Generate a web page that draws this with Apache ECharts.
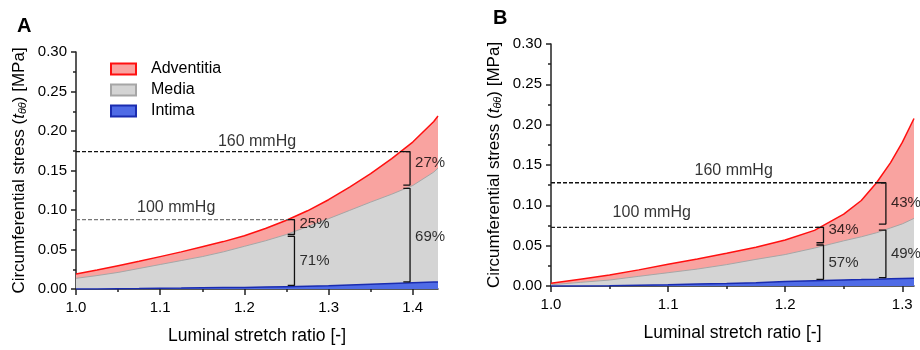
<!DOCTYPE html>
<html>
<head>
<meta charset="utf-8">
<script src="https://cdn.jsdelivr.net/npm/echarts@6/dist/echarts.min.js"></script>
<style>
  html, body { margin: 0; padding: 0; background: #fff; }
  #chart { width: 920px; height: 350px; }
</style>
</head>
<body>
<div id="chart"></div>
<script>
// panel A – stress vs stretch
var xA = [1.000, 1.025, 1.050, 1.075, 1.100, 1.125, 1.150, 1.175, 1.200, 1.225,
          1.250, 1.275, 1.300, 1.325, 1.350, 1.375, 1.400, 1.425, 1.430];
var adventitiaA = [0.019, 0.024, 0.0295, 0.035, 0.041, 0.047, 0.0535, 0.060, 0.0675, 0.0765,
                   0.087, 0.099, 0.113, 0.129, 0.146, 0.165, 0.186, 0.212, 0.219];
var mediaA = [0.0135, 0.017, 0.021, 0.026, 0.031, 0.036, 0.041, 0.047, 0.054, 0.061,
              0.069, 0.079, 0.089, 0.0995, 0.110, 0.120, 0.131, 0.148, 0.153];
var intimaA = [0, 0, 0.0003, 0.0006, 0.001, 0.0012, 0.0015, 0.0018, 0.002, 0.0025,
               0.003, 0.0035, 0.004, 0.005, 0.006, 0.007, 0.008, 0.009, 0.009];

// panel B
var xB = [1.000, 1.025, 1.050, 1.075, 1.100, 1.125, 1.150, 1.175, 1.200, 1.225,
          1.250, 1.265, 1.278, 1.290, 1.300, 1.310];
var adventitiaB = [0.0033, 0.0085, 0.0136, 0.020, 0.027, 0.0335, 0.0405, 0.048, 0.057, 0.069,
                   0.089, 0.106, 0.128, 0.153, 0.178, 0.2076];
var mediaB = [0.0015, 0.0045, 0.0074, 0.012, 0.0165, 0.021, 0.0265, 0.033, 0.039, 0.047,
              0.056, 0.061, 0.066, 0.072, 0.077, 0.0838];
var intimaB = [0, 0, 0.0004, 0.001, 0.0016, 0.0024, 0.003, 0.004, 0.0055, 0.0065,
               0.0075, 0.008, 0.0085, 0.009, 0.0093, 0.0095];

// pressure levels: [label, stress, x where the dashed line stops]
var pressuresA = [['160 mmHg', 0.1739, 1.3968], ['100 mmHg', 0.0878, 1.2595]];
var pressuresB = [['160 mmHg', 0.128, 1.286], ['100 mmHg', 0.0727, 1.2327]];
var pressureLabelA = [[1.215, 0.187], [1.119, 0.103]];
var pressureLabelB = [[1.156, 0.1426], [1.086, 0.0905]];

// brackets: x, top, bottom, label, label y
var bracketXA = [1.2595, 1.2595, 1.3968, 1.3968];
var bracketTopA = [0.0878, 0.0665, 0.1739, 0.1274];
var bracketBotA = [0.069, 0.0045, 0.1316, 0.0091];
var bracketTextA = ['25%', '71%', '27%', '69%'];
var bracketTextYA = [0.083, 0.035, 0.160, 0.066];

var bracketXB = [1.2327, 1.2327, 1.286, 1.286];
var bracketTopB = [0.0727, 0.0508, 0.128, 0.0693];
var bracketBotB = [0.0536, 0.0083, 0.0768, 0.0103];
var bracketTextB = ['34%', '57%', '43%', '49%'];
var bracketTextYB = [0.0702, 0.0293, 0.103, 0.0396];

var xMajorA = [1.0, 1.1, 1.2, 1.3, 1.4];
var xMinorA = [1.05, 1.15, 1.25, 1.35];
var xMajorB = [1.0, 1.1, 1.2, 1.3];
var xMinorB = [1.05, 1.15, 1.25];

var FONT = 'Liberation Sans, Arial, sans-serif';
var axisColor = '#222';
var textColor = '#000';

function zip(xs, ys) {
  return xs.map(function (x, i) { return [x, ys[i]]; });
}

function areaSeries(name, xs, ys, idx, lineColor, fillColor, lw) {
  return {
    name: name, type: 'line', xAxisIndex: idx * 2, yAxisIndex: idx,
    data: zip(xs, ys), smooth: false, symbol: 'none',
    lineStyle: { color: lineColor, width: lw },
    itemStyle: { color: fillColor, borderColor: lineColor, borderWidth: 1.5 },
    areaStyle: { color: fillColor, opacity: 1 },
    silent: true
  };
}

function xAxes(gridIdx, max, major, minor) {
  return [{
    type: 'value', gridIndex: gridIdx, min: 1.0, max: max, interval: 0.1,
    position: 'bottom',
    name: 'Luminal stretch ratio [-]', nameLocation: 'middle', nameGap: 38,
    nameTextStyle: { fontFamily: FONT, fontSize: 17.5, color: textColor },
    axisLine: { lineStyle: { color: axisColor, width: 1.5 } },
    axisTick: { customValues: major, length: 6, lineStyle: { color: axisColor, width: 1.5 } },
    axisLabel: { customValues: major, fontFamily: FONT, fontSize: 15, color: textColor, margin: 11,
      formatter: function (v) { return v.toFixed(1); } },
    splitLine: { show: false }
  }, {
    type: 'value', gridIndex: gridIdx, min: 1.0, max: max, position: 'bottom',
    axisLine: { show: false },
    axisTick: { customValues: minor, length: 3, lineStyle: { color: axisColor, width: 1.5 } },
    axisLabel: { show: false },
    splitLine: { show: false }
  }];
}

function yAxis(gridIdx) {
  return {
    type: 'value', gridIndex: gridIdx, min: 0, max: 0.3, interval: 0.05,
    name: 'Circumferential stress ({i|t}{s|θθ}) [MPa]', nameLocation: 'middle', nameGap: 48,
    nameTextStyle: { fontFamily: FONT, fontSize: 17, color: textColor,
      rich: {
        i: { fontFamily: FONT, fontSize: 17, fontStyle: 'italic', color: textColor },
        s: { fontFamily: FONT, fontSize: 11, fontStyle: 'italic', color: textColor, verticalAlign: 'bottom' }
      } },
    axisLine: { show: true, lineStyle: { color: axisColor, width: 1.5 } },
    axisTick: { show: true, length: 5, lineStyle: { color: axisColor, width: 1.5 } },
    minorTick: { show: true, splitNumber: 2, length: 3, lineStyle: { color: axisColor, width: 1.5 } },
    axisLabel: { fontFamily: FONT, fontSize: 15, color: textColor, margin: 9,
      formatter: function (v) { return v.toFixed(2); } },
    splitLine: { show: false }
  };
}

function pressureSeries(levels, labelPos, idx, colors) {
  var out = [];
  levels.forEach(function (p, i) {
    out.push({
      type: 'line', xAxisIndex: idx * 2, yAxisIndex: idx, symbol: 'none', silent: true, z: 5,
      data: [[1.0, p[1]], [p[2], p[1]]],
      lineStyle: { color: colors[i], width: 1.3, type: [4, 2] }
    });
    out.push({
      type: 'scatter', xAxisIndex: idx * 2, yAxisIndex: idx, symbolSize: 0, silent: true, z: 6,
      data: [labelPos[i]],
      label: { show: true, position: 'inside', formatter: p[0], fontFamily: FONT, fontSize: 16, color: textColor }
    });
  });
  return out;
}

function bracketSeries(bx, top, bot, texts, ty, idx, dx) {
  var out = [];
  bx.forEach(function (x, i) {
    out.push({
      type: 'line', xAxisIndex: idx * 2, yAxisIndex: idx, symbol: 'none', silent: true, z: 5,
      data: [[x - dx, top[i]], [x, top[i]], [x, bot[i]], [x - dx, bot[i]]],
      lineStyle: { color: '#111', width: 1.3 }
    });
    out.push({
      type: 'scatter', xAxisIndex: idx * 2, yAxisIndex: idx, symbolSize: 0, silent: true, z: 6,
      data: [[x, ty[i]]],
      label: { show: true, position: 'right', distance: 5, formatter: texts[i],
        fontFamily: FONT, fontSize: 15, color: textColor }
    });
  });
  return out;
}

var chart = echarts.init(document.getElementById('chart'));
chart.setOption({
  backgroundColor: '#fff',
  animation: false,
  title: [
    { text: 'A', left: 12, top: 11, textStyle: { fontFamily: FONT, fontSize: 20, fontWeight: 'bold', color: '#000' } },
    { text: 'B', left: 488, top: 3, textStyle: { fontFamily: FONT, fontSize: 20, fontWeight: 'bold', color: '#000' } }
  ],
  legend: {
    orient: 'vertical', left: 105, top: 56, itemWidth: 25, itemHeight: 11, itemGap: 5,
    icon: 'rect',
    textStyle: { fontFamily: FONT, fontSize: 16, color: textColor, padding: [0, 0, 0, 10] },
    data: ['Adventitia', 'Media', 'Intima']
  },
  grid: [
    { left: 76, top: 52, width: 362, height: 241 },
    { left: 551, top: 44, width: 363, height: 242 }
  ],
  xAxis: xAxes(0, 1.43, xMajorA, xMinorA).concat(xAxes(1, 1.31, xMajorB, xMinorB)),
  yAxis: [yAxis(0), yAxis(1)],
  series: [
    areaSeries('Adventitia', xA, adventitiaA, 0, '#ff1010', '#f9a3a0', 1.5),
    areaSeries('Media', xA, mediaA, 0, '#a6a6a6', '#d4d4d4', 1),
    areaSeries('Intima', xA, intimaA, 0, '#1a2cb0', '#4f6be6', 1.5),
    areaSeries('Adventitia', xB, adventitiaB, 1, '#ff1010', '#f9a3a0', 1.5),
    areaSeries('Media', xB, mediaB, 1, '#a6a6a6', '#d4d4d4', 1),
    areaSeries('Intima', xB, intimaB, 1, '#1a2cb0', '#4f6be6', 1.5)
  ].concat(
    pressureSeries(pressuresA, pressureLabelA, 0, ['#111', '#777']),
    pressureSeries(pressuresB, pressureLabelB, 1, ['#111', '#222']),
    bracketSeries(bracketXA, bracketTopA, bracketBotA, bracketTextA, bracketTextYA, 0, 0.008),
    bracketSeries(bracketXB, bracketTopB, bracketBotB, bracketTextB, bracketTextYB, 1, 0.006)
  )
});
</script>
</body>
</html>
